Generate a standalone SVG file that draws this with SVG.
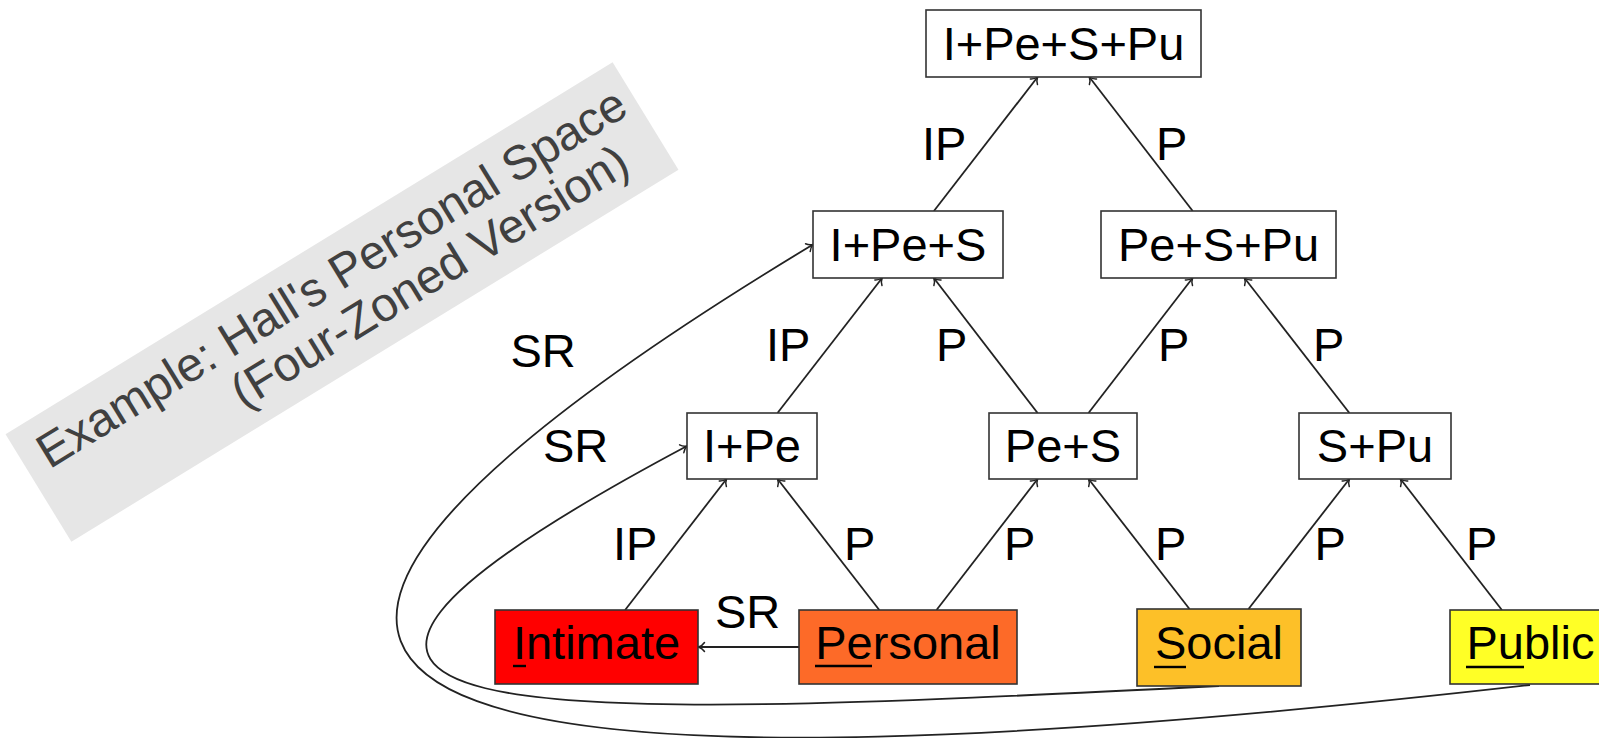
<svg xmlns="http://www.w3.org/2000/svg" width="1599" height="738" viewBox="0 0 1599 738">
  <style>
    text { font-family: "Liberation Sans", Arial, Helvetica, sans-serif; font-size: 47px; fill: #000; }
    .box { fill: #fff; stroke: #333; stroke-width: 1.6; }
    .lbl { text-anchor: middle; }
    .edge { fill: none; stroke: #222; stroke-width: 1.8; marker-end: url(#tip); }
    .ul { stroke: #000; stroke-width: 2.4; }
    .title { font-size: 48px; fill: #404040; }
  </style>
  <defs>
    <marker id="tip" markerUnits="userSpaceOnUse" viewBox="-8 -6 10 12" refX="0" refY="0" markerWidth="10" markerHeight="12" orient="auto" overflow="visible">
      <path d="M -6,-4.5 C -4,-1.5 -1.2,-0.4 0,0 C -1.2,0.4 -4,1.5 -6,4.5" fill="none" stroke="#222" stroke-width="1.5" stroke-linecap="round"/>
    </marker>
  </defs>

  <!-- rotated caption band -->
  <g id="title" transform="translate(342,302) rotate(-31.5)">
    <rect x="-356" y="-63" width="712" height="126" fill="#e6e6e6"/>
    <text class="title" x="-337" y="-10">Example: Hall's Personal Space</text>
    <text class="title" x="-140" y="40">(Four-Zoned Version)</text>
  </g>

  <!-- connectors -->
  <g id="connectors">
    <line class="edge" x1="933.9" y1="211" x2="1037.6" y2="77"/>
    <line class="edge" x1="1192.7" y1="211" x2="1089.3" y2="77"/>
    <line class="edge" x1="777.5" y1="413" x2="882.1" y2="278"/>
    <line class="edge" x1="1037.6" y1="413" x2="933.8" y2="278"/>
    <line class="edge" x1="1088.5" y1="413" x2="1192.6" y2="278"/>
    <line class="edge" x1="1349.4" y1="413" x2="1244.5" y2="278"/>
    <line class="edge" x1="625.1" y1="610" x2="726.5" y2="479"/>
    <line class="edge" x1="879.3" y1="610" x2="777.6" y2="479"/>
    <line class="edge" x1="936.5" y1="610" x2="1037.6" y2="479"/>
    <line class="edge" x1="1189.5" y1="609" x2="1088.6" y2="479"/>
    <line class="edge" x1="1248.5" y1="609" x2="1349.4" y2="479"/>
    <line class="edge" x1="1501.9" y1="610" x2="1400.5" y2="479"/>
    <!-- SR links -->
    <line class="edge" x1="799" y1="647" x2="698.5" y2="647"/>
    <path class="edge" d="M 1219,686 C 519,721 140,737 687,446"/>
    <path class="edge" d="M 1530,685 C 536,798 -45,762 813,244.5"/>
  </g>

  <!-- connector labels -->
  <g id="edge-labels">
    <text x="922" y="160">IP</text>
    <text x="1156" y="160">P</text>
    <text x="766" y="361">IP</text>
    <text x="936" y="361">P</text>
    <text x="1158" y="361">P</text>
    <text x="1313" y="361">P</text>
    <text x="613" y="560">IP</text>
    <text x="844" y="560">P</text>
    <text x="1004" y="560">P</text>
    <text x="1155" y="560">P</text>
    <text x="1314.5" y="560">P</text>
    <text x="1466" y="560">P</text>
    <text x="715" y="628">SR</text>
    <text x="543" y="462">SR</text>
    <text x="510.5" y="367">SR</text>
  </g>

  <!-- nodes -->
  <g id="n-I-Pe-S-Pu">
    <rect class="box" x="926" y="10" width="275" height="67"/>
    <text class="lbl" x="1063.5" y="60">I+Pe+S+Pu</text>
  </g>
  <g id="n-I-Pe-S">
    <rect class="box" x="813" y="211" width="190" height="67"/>
    <text class="lbl" x="908" y="261">I+Pe+S</text>
  </g>
  <g id="n-Pe-S-Pu">
    <rect class="box" x="1101" y="211" width="235" height="67"/>
    <text class="lbl" x="1218.5" y="261">Pe+S+Pu</text>
  </g>
  <g id="n-I-Pe">
    <rect class="box" x="687" y="413" width="130" height="66"/>
    <text class="lbl" x="752" y="462">I+Pe</text>
  </g>
  <g id="n-Pe-S">
    <rect class="box" x="989" y="413" width="148" height="66"/>
    <text class="lbl" x="1063" y="462">Pe+S</text>
  </g>
  <g id="n-S-Pu">
    <rect class="box" x="1299" y="413" width="152" height="66"/>
    <text class="lbl" x="1375" y="462">S+Pu</text>
  </g>
  <g id="n-intimate">
    <rect class="box" x="495" y="610" width="203" height="74" style="fill:#ff0000"/>
    <text class="lbl" x="596.5" y="659">Intimate</text>
    <line class="ul" x1="513" y1="666" x2="526" y2="666"/>
  </g>
  <g id="n-personal">
    <rect class="box" x="799" y="610" width="218" height="74" style="fill:#fd6a28"/>
    <text class="lbl" x="908" y="659">Personal</text>
    <line class="ul" x1="815" y1="666" x2="872" y2="666"/>
  </g>
  <g id="n-social">
    <rect class="box" x="1137" y="609" width="164" height="77" style="fill:#fdc028"/>
    <text class="lbl" x="1219" y="659">Social</text>
    <line class="ul" x1="1154" y1="667" x2="1186" y2="667"/>
  </g>
  <g id="n-public">
    <rect class="box" x="1450" y="610" width="161" height="74" style="fill:#ffff26"/>
    <text class="lbl" x="1530.5" y="659">Public</text>
    <line class="ul" x1="1466" y1="667" x2="1524" y2="667"/>
  </g>
</svg>
